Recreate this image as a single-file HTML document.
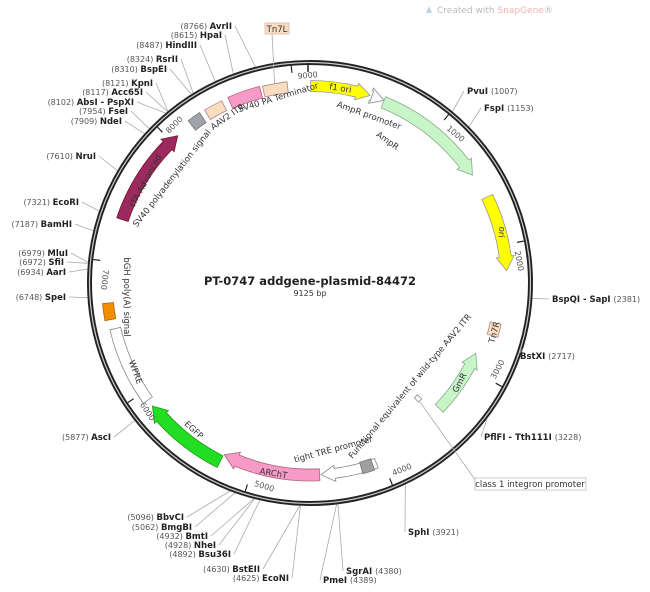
<!DOCTYPE html>
<html><head><meta charset="utf-8"><style>
html,body{margin:0;padding:0;background:#fff;}
svg{display:block;font-family:"DejaVu Sans","Liberation Sans",sans-serif;}
.n{font-size:8px;fill:#555;}
.e{font-size:8.5px;font-weight:bold;fill:#222;}
.f{font-size:8.5px;fill:#333;}
</style></head><body>
<svg id="s" width="650" height="592" viewBox="0 0 650 592" xmlns="http://www.w3.org/2000/svg">
<text x="437" y="13" font-size="9" fill="#bbb">Created with <tspan fill="#f3b0b0">SnapGene</tspan>®</text>
<path d="M426 13 l3 -7 l3 7 z" fill="#b8d4e6"/>
<circle cx="310" cy="283" r="220.5" fill="none" stroke="#222" stroke-width="5"/>
<circle cx="310" cy="283" r="220.5" fill="none" stroke="#ccc" stroke-width="1.2"/>
<text x="310" y="285" text-anchor="middle" font-size="11.5" font-weight="bold" fill="#222">PT-0747    addgene-plasmid-84472</text>
<text x="310" y="296" text-anchor="middle" font-size="8" fill="#333">9125 bp</text>
<line x1="308" y1="63" x2="308" y2="72" stroke="#222" stroke-width="1.5"/>
<g id="g"></g>
</svg>
<script>
var NS="http://www.w3.org/2000/svg",g=document.getElementById("g"),cx=310,cy=283,T=9125;
function P(b,r){var a=b/T*2*Math.PI;return [cx+r*Math.sin(a),cy-r*Math.cos(a)];}
function el(t,at,txt){var e=document.createElementNS(NS,t);for(var k in at)e.setAttribute(k,at[k]);if(txt!=null)e.textContent=txt;g.appendChild(e);return e;}
function arc(b1,b2,r){var p=P(b2,r),large=Math.abs(b2-b1)/T>0.5?1:0,sw=b2>b1?1:0;return "A"+r+","+r+" 0 "+large+","+sw+" "+p[0].toFixed(1)+","+p[1].toFixed(1);}
function feat(b1,b2,r,w,fill,dir,stroke){
 var ro=r+w/2,ri=r-w/2,d;
 var hb=14/r*T/(2*Math.PI);
 if(dir=="cw"){var e=b2-hb;var a=P(b1,ro),b=P(e,ro+3),t=P(b2,r),c=P(e,ri-3),c2=P(e,ri);
  d="M"+a+" "+arc(b1,e,ro)+" L"+b+" L"+t+" L"+c+" L"+c2+" "+arc(e,b1,ri)+"Z";}
 else if(dir=="ccw"){var s=b1+hb;var a=P(b2,ro),t=P(b1,r);
  d="M"+a+" "+arc(b2,s,ro)+" L"+P(s,ro+3)+" L"+t+" L"+P(s,ri-3)+" L"+P(s,ri)+" "+arc(s,b2,ri)+"Z";}
 else{d="M"+P(b1,ro)+" "+arc(b1,b2,ro)+" L"+P(b2,ri)+" "+arc(b2,b1,ri)+"Z";}
 el("path",{d:d,fill:fill,stroke:stroke||"#888","stroke-width":0.8});
}
function lab(x,y,rot,txt,cls,fill){var e=el("text",{x:0,y:0,"text-anchor":"middle",transform:"translate("+x+","+y+") rotate("+rot+")","class":cls||"f"},txt);if(fill)e.setAttribute("fill",fill);}
feat(5,450,197,11,"#ffff00","cw","#999");
feat(465,560,197,10,"#fff","cw","#888");
feat(560,1430,195,12,"#c8f5c8","cw","#8a8");
feat(1625,2190,197,12,"#ffff00","cw","#999");
feat(2590,2690,190,11,"#fadcc0",null,"#a88");
feat(2865,3400,180,11,"#c8f5c8","ccw","#8a8");
feat(3450,3490,158,6,"#fff",null,"#888");
feat(4050,4480,192,10,"#fff","cw","#888");
feat(4080,4170,192,12,"#a0a0a0",null,"#777");
feat(4490,5235,192,12,"#f79ac8","cw","#a67");
feat(5240,5880,200,13,"#22dd22","cw","#292");
feat(5935,6510,200,11,"#fff",null,"#888");
feat(6580,6700,203,11,"#f28c00",null,"#a60");
feat(7317,8062,198,12,"#9c2a5e","cw","#712");
feat(8190,8290,197,12,"#a0a4a8",null,"#777");
feat(8330,8470,197,11,"#fadcc0",null,"#a88");
feat(8520,8760,197,12,"#f79ac8",null,"#a67");
feat(8780,8960,197,11,"#fadcc0",null,"#a88");
lab(340,91,9,"f1 ori","f");
lab(368,118,20,"AmpR promoter","f");
lab(386,143,35,"AmpR","f");
lab(499,232,95,"ori","f");
lab(497,333,-75,"Tn7R","f");
lab(412,388,-50,"Functional equivalent of wild-type AAV2 ITR","f");
lab(462,384,-62,"GmR","f","#333");
lab(334,452,-15,"tight TRE promoter","f");
lab(273,476,10,"ARChT","f");
lab(192,432,42,"EGFP","f");
lab(133,373,70,"WPRE","f");
lab(124,297,90,"bGH poly(A) signal","f");
lab(148,182,-62,"tTA-Advanced","f","#fff");
lab(174,180,-52,"SV40 polyadenylation signal","f");
lab(229,119,-35,"AAV2 ITR","f");
lab(279,100,-17,"SV40 PA Terminator","f");
for(var k=1;k<=9;k++){var b=k*1000,a=P(b,218),c=P(b,211);el("line",{x1:a[0],y1:a[1],x2:c[0],y2:c[1],stroke:"#222","stroke-width":1.2});
 var ang=b/T*360,rr=ang;if(rr>90&&rr<=280)rr-=180;else if(rr>280)rr-=360;
 var q=P(b+(ang>90&&ang<=280?-110:110),208);lab(q[0],q[1]+3,rr,String(b),"n");}
var L=[[8766,"AvrII","(8766)",232,29],[8615,"HpaI","(8615)",222,38],[8487,"HindIII","(8487)",197,48],[8324,"RsrII","(8324)",178,62],[8310,"BspEI","(8310)",167,72],[8121,"KpnI","(8121)",153,86],[8117,"Acc65I","(8117)",143,95],[8102,"AbsI - PspXI","(8102)",134,105],[7954,"FseI","(7954)",128,114],[7909,"NdeI","(7909)",122,124],[7610,"NruI","(7610)",96,159],[7321,"EcoRI","(7321)",79,205],[7187,"BamHI","(7187)",72,227],[6979,"MluI","(6979)",68,256],[6972,"SfiI","(6972)",64,265],[6934,"AarI","(6934)",66,275],[6748,"SpeI","(6748)",66,300],[5877,"AscI","(5877)",111,440],[5096,"BbvCI","(5096)",184,520],[5062,"BmgBI","(5062)",192,530],[4932,"BmtI","(4932)",208,539],[4928,"NheI","(4928)",216,548],[4892,"Bsu36I","(4892)",231,557],[4630,"BstEII","(4630)",260,572],[4625,"EcoNI","(4625)",289,581]];
L.forEach(function(e){var p=P(e[0],223);el("line",{x1:p[0],y1:p[1],x2:e[3]+3,y2:e[4]-3,stroke:"#aaa","stroke-width":0.8});
 var t=el("text",{x:e[3],y:e[4],"text-anchor":"end"});var s1=document.createElementNS(NS,"tspan");s1.setAttribute("class","n");s1.textContent=e[2]+" ";t.appendChild(s1);var s2=document.createElementNS(NS,"tspan");s2.setAttribute("class","e");s2.textContent=e[1];t.appendChild(s2);});
var Rt=[[1007,"PvuI","(1007)",467,94],[1153,"FspI","(1153)",484,111],[2381,"BspQI - SapI","(2381)",552,302],[2717,"BstXI","(2717)",520,359],[3228,"PflFI - Tth111I","(3228)",484,440],[3921,"SphI","(3921)",408,535],[4380,"SgrAI","(4380)",346,574],[4389,"PmeI","(4389)",323,583]];
Rt.forEach(function(e){var p=P(e[0],223);el("line",{x1:p[0],y1:p[1],x2:e[3]-3,y2:e[4]-3,stroke:"#aaa","stroke-width":0.8});
 var t=el("text",{x:e[3],y:e[4]});var s2=document.createElementNS(NS,"tspan");s2.setAttribute("class","e");s2.textContent=e[1]+" ";t.appendChild(s2);var s1=document.createElementNS(NS,"tspan");s1.setAttribute("class","n");s1.textContent=e[2];t.appendChild(s1);});
var p=P(8870,203);el("line",{x1:p[0],y1:p[1],x2:272,y2:33,stroke:"#aaa","stroke-width":0.8});
el("rect",{x:265,y:23,width:24,height:11,fill:"#fadcc0",stroke:"#caa","stroke-width":0.6});
el("text",{x:277,y:32,"text-anchor":"middle","class":"f"},"Tn7L");
el("line",{x1:420,y1:402,x2:476,y2:481,stroke:"#aaa","stroke-width":0.8});
el("rect",{x:475,y:478,width:111,height:12,fill:"#fff",stroke:"#aaa","stroke-width":0.6});
el("text",{x:530,y:487,"text-anchor":"middle","class":"f"},"class 1 integron promoter");
</script>
</body></html>
